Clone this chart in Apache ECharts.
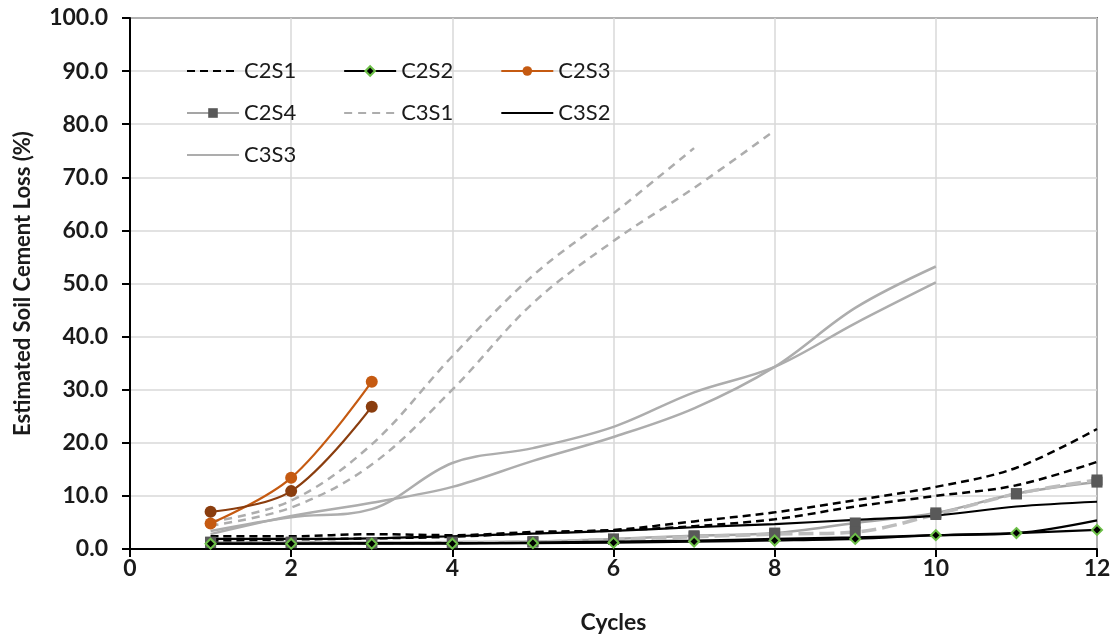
<!DOCTYPE html>
<html style="height: 100%">
<head>
<meta charset="utf-8">
<script src="https://cdn.jsdelivr.net/npm/echarts@6/dist/echarts.min.js"></script>
</head>
<body style="height: 100%; margin: 0; background: #fff">
<div id="container" style="width: 1116px; height: 640px"></div>
<script type="text/javascript">
// cycles (x values)
var cycles = [1, 2, 3, 4, 5, 6, 7, 8, 9, 10, 11, 12];

// estimated soil cement loss (%), two replicates per mix
var c2s1a = [2.4, 2.4, 2.8, 2.6, 3.2, 3.6, 5.2, 6.9, 9.2, 11.7, 15.3, 22.6];
var c2s1b = [1.6, 1.8, 2.0, 2.3, 3.0, 3.5, 4.3, 5.6, 8.0, 10.0, 12.0, 16.4];
var c2s2a = [1.0, 1.0, 1.0, 1.0, 1.1, 1.2, 1.4, 1.6, 1.9, 2.6, 3.0, 3.6];
var c2s3a = [4.8, 13.4, 31.5];
var c2s3b = [7.0, 10.9, 26.8];
var c2s4a = [1.3, 1.3, 1.2, 1.3, 1.4, 1.9, 2.5, 3.0, 4.9, 6.8, 10.4, 12.6];
var c2s4b = [1.2, 1.2, 1.1, 1.2, 1.3, 1.8, 2.3, 2.8, 3.2, 6.5, 10.4, 13.0];
var c3s1a = [5.1, 9.1, 19.7, 36.3, 51.5, 63.2, 75.5];
var c3s1b = [4.4, 7.8, 15.9, 30.0, 46.3, 58.0, 68.0, 78.8];
var c3s2a = [1.9, 1.9, 2.0, 2.4, 2.9, 3.4, 4.1, 4.7, 5.5, 6.3, 8.0, 8.9];
var c3s2b = [1.0, 1.0, 1.1, 1.1, 1.2, 1.4, 1.6, 1.9, 2.2, 2.6, 3.0, 5.4];
var c3s3a = [3.4, 6.0, 7.5, 16.2, 19.0, 23.0, 29.5, 34.3, 42.5, 50.2];
var c3s3b = [2.8, 6.2, 8.7, 11.7, 16.6, 21.1, 26.5, 34.3, 45.4, 53.2];

var yTicks = [0, 10, 20, 30, 40, 50, 60, 70, 80, 90, 100];

// legend entries drawn with a marker on the line
var markerNames = ['C2S2', 'C2S3', 'C2S4'];

function pairs(vals) {
    return vals.map(function (v, i) { return [cycles[i], v]; });
}

var FONT = 'Lato';

function line(name, vals, color, type, width, extra) {
    var s = {
        name: name,
        type: 'line',
        data: pairs(vals),
        smooth: 0.35,
        symbol: 'none',
        lineStyle: { color: color, type: type, width: width },
        itemStyle: { color: color },
        emphasis: { disabled: true }
    };
    for (var k in extra) s[k] = extra[k];
    return s;
}

var diamond = {
    symbol: 'diamond', symbolSize: 10, showSymbol: true,
    itemStyle: { color: '#000', borderColor: '#6CBF47', borderWidth: 2 }
};
var square = {
    symbol: 'rect', symbolSize: 11, showSymbol: true,
    itemStyle: { color: '#595959' }
};
function circle(color) {
    return { symbol: 'circle', symbolSize: 12, showSymbol: true, itemStyle: { color: color } };
}

var series = [
    line('C3S3', c3s3a, '#ADADAD', 'solid', 2.5),
    line('C3S3', c3s3b, '#ADADAD', 'solid', 2.5),
    line('C3S1', c3s1a, '#ADADAD', [8, 6], 2.5),
    line('C3S1', c3s1b, '#ADADAD', [8, 6], 2.5),
    line('C2S4', c2s4a, '#A5A5A5', 'solid', 2.5, square),
    line('C2S4', c2s4b, '#BDBDBD', [15, 6], 3.5, square),
    line('C3S2', c3s2a, '#000', 'solid', 2.2),
    line('C3S2', c3s2b, '#000', 'solid', 2.2),
    line('C2S2', c2s2a, '#000', 'solid', 2.2, diamond),
    line('C2S1', c2s1a, '#000', [8, 5], 2.5),
    line('C2S1', c2s1b, '#000', [8, 5], 2.5),
    line('C2S3', c2s3a, '#C55A11', 'solid', 2.2, circle('#C55A11')),
    line('C2S3', c2s3b, '#8A3D0E', 'solid', 2.2, circle('#8A3D0E'))
];

function legendRow(names, top) {
    return {
        data: names.map(function (n) {
            return markerNames.indexOf(n) >= 0 ? { name: n } : { name: n, itemStyle: { opacity: 0 } };
        }),
        top: top,
        left: 181,
        itemWidth: 52,
        itemHeight: 12,
        itemGap: 47,
        selectedMode: false,
        textStyle: { fontFamily: FONT, fontSize: 22, color: '#1a1a1a' }
    };
}

var dom = document.getElementById('container');
var myChart = echarts.init(dom);
var option = {
    animation: false,
    backgroundColor: '#fff',
    legend: [
        legendRow(['C2S1', 'C2S2', 'C2S3'], 55),
        legendRow(['C2S4', 'C3S1', 'C3S2'], 97),
        legendRow(['C3S3'], 139)
    ],
    grid: {
        left: 130, right: 19, top: 18, bottom: 91,
        show: true, borderColor: '#000', borderWidth: 1.5
    },
    xAxis: {
        type: 'value',
        min: 0, max: 12, interval: 2,
        name: 'Cycles',
        nameLocation: 'middle',
        nameGap: 62,
        nameTextStyle: { fontFamily: FONT, fontSize: 23, fontWeight: 'bold', color: '#1a1a1a' },
        axisLine: { lineStyle: { color: '#000', width: 2 } },
        axisTick: { show: true, length: 8, lineStyle: { color: '#000', width: 2 } },
        axisLabel: { fontFamily: FONT, fontSize: 23, fontWeight: 'bold', color: '#1a1a1a', margin: 8 },
        splitLine: { lineStyle: { color: '#D9D9D9', width: 1.5 } }
    },
    yAxis: {
        type: 'value',
        min: yTicks[0], max: yTicks[yTicks.length - 1], interval: 10,
        name: 'Estimated Soil Cement Loss (%)',
        nameLocation: 'middle',
        nameGap: 96,
        nameTextStyle: { fontFamily: FONT, fontSize: 22, fontWeight: 'bold', color: '#1a1a1a' },
        axisLine: { show: true, lineStyle: { color: '#000', width: 2 } },
        axisTick: { show: true, length: 8, lineStyle: { color: '#000', width: 2 } },
        axisLabel: {
            fontFamily: FONT, fontSize: 23, fontWeight: 'bold', color: '#1a1a1a', margin: 22,
            formatter: function (v) { return v.toFixed(1); }
        },
        splitLine: { lineStyle: { color: '#D9D9D9', width: 1.5 } }
    },
    series: series
};
myChart.setOption(option, true);
</script>
</body>
</html>
